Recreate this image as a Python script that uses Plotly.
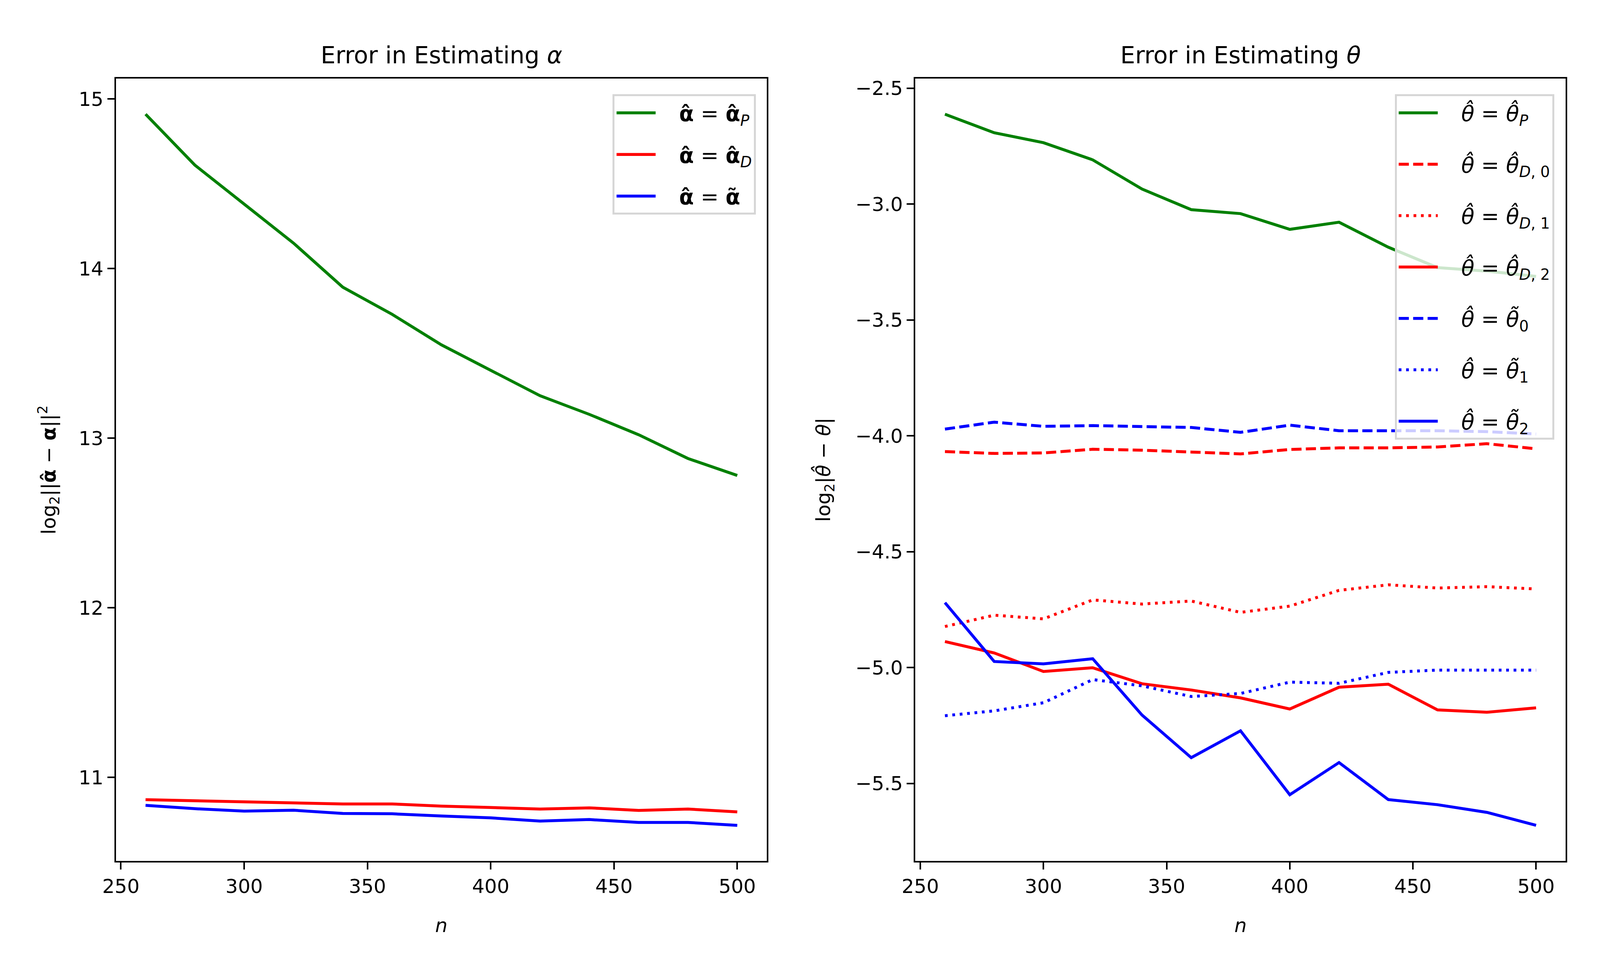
import plotly.graph_objects as go

# sample sizes
n = [260, 280, 300, 320, 340, 360, 380, 400, 420, 440, 460, 480, 500]

# left panel: log2 ||alpha_hat - alpha||^2
alpha_P = [14.91, 14.61, 14.38, 14.15, 13.89, 13.73, 13.55, 13.40, 13.25, 13.14, 13.02, 12.88, 12.78]
alpha_D = [10.868, 10.862, 10.853, 10.851, 10.843, 10.843, 10.830, 10.822, 10.813, 10.820, 10.805, 10.813, 10.796]
alpha_T = [10.835, 10.815, 10.801, 10.806, 10.787, 10.785, 10.772, 10.761, 10.742, 10.751, 10.734, 10.734, 10.717]

# right panel: log2 |theta_hat - theta|
theta_P = [-2.612, -2.692, -2.735, -2.809, -2.935, -3.024, -3.041, -3.109, -3.078, -3.186, -3.274, -3.289, -3.312]
theta_D0 = [-4.068, -4.076, -4.074, -4.058, -4.062, -4.071, -4.078, -4.059, -4.052, -4.052, -4.048, -4.034, -4.056]
theta_D1 = [-4.823, -4.774, -4.790, -4.708, -4.726, -4.713, -4.762, -4.735, -4.667, -4.643, -4.657, -4.651, -4.661]
theta_D2 = [-4.888, -4.937, -5.017, -5.001, -5.070, -5.097, -5.131, -5.179, -5.085, -5.072, -5.183, -5.193, -5.174]
theta_T0 = [-3.971, -3.941, -3.959, -3.956, -3.960, -3.964, -3.985, -3.954, -3.978, -3.978, -3.978, -3.982, -3.992]
theta_T1 = [-5.208, -5.187, -5.152, -5.052, -5.079, -5.125, -5.112, -5.063, -5.068, -5.021, -5.011, -5.011, -5.011]
theta_T2 = [-4.720, -4.974, -4.984, -4.962, -5.205, -5.389, -5.273, -5.549, -5.410, -5.570, -5.592, -5.625, -5.681]

x_ticks = [250, 300, 350, 400, 450, 500]
alpha_ticks = [11, 12, 13, 14, 15]
theta_ticks = [-5.5, -5.0, -4.5, -4.0, -3.5, -3.0, -2.5]

A = "<b>\u03b1\u0302</b>"
T = "<i>\u03b8\u0302</i>"
GAP = "\u2003"  # room between legend line and its text
alpha_labels = [GAP + A + " = " + A + "<sub><i>P</i></sub>",
                GAP + A + " = " + A + "<sub><i>D</i></sub>",
                GAP + A + " = <b>\u03b1\u0303</b>"]
theta_labels = [GAP + T + " = " + T + "<sub><i>P</i></sub>",
                GAP + T + " = " + T + "<sub><i>D</i>, 0</sub>",
                GAP + T + " = " + T + "<sub><i>D</i>, 1</sub>",
                GAP + T + " = " + T + "<sub><i>D</i>, 2</sub>",
                GAP + T + " = <i>\u03b8\u0303</i><sub>0</sub>",
                GAP + T + " = <i>\u03b8\u0303</i><sub>1</sub>",
                GAP + T + " = <i>\u03b8\u0303</i><sub>2</sub>"]

FONT = "DejaVu Sans"
FS = 50
LW = 7.5
DASH = "26px,11px"
DOT = "7px,12px"


def padded(*series):
    lo = min(min(s) for s in series)
    hi = max(max(s) for s in series)
    pad = (hi - lo) * 0.05
    return [lo - pad, hi + pad]


fig = go.Figure()

left = [(alpha_P, "green", "solid"), (alpha_D, "red", "solid"), (alpha_T, "blue", "solid")]
for i, (ys, col, dash) in enumerate(left):
    fig.add_trace(go.Scatter(x=n, y=ys, mode="lines", name=alpha_labels[i],
                             line=dict(color=col, width=LW, dash=dash),
                             xaxis="x", yaxis="y", legend="legend",
                             legendgroup="a%d" % i))

right = [(theta_P, "green", "solid"), (theta_D0, "red", DASH), (theta_D1, "red", DOT),
         (theta_D2, "red", "solid"), (theta_T0, "blue", DASH), (theta_T1, "blue", DOT),
         (theta_T2, "blue", "solid")]
for i, (ys, col, dash) in enumerate(right):
    fig.add_trace(go.Scatter(x=n, y=ys, mode="lines", name=theta_labels[i],
                             line=dict(color=col, width=LW, dash=dash),
                             xaxis="x2", yaxis="y2", legend="legend2",
                             legendgroup="t%d" % i))

axis_common = dict(showline=True, linecolor="black", linewidth=4, mirror=True,
                   ticks="outside", ticklen=18, tickwidth=4, tickcolor="black",
                   showgrid=False, zeroline=False, automargin=False,
                   tickfont=dict(family=FONT, size=FS, color="black"))

legend_common = dict(xanchor="right", yanchor="top", y=0.906,
                     bgcolor="rgba(255,255,255,0.8)", bordercolor="#d6d6d6", borderwidth=5,
                     font=dict(family=FONT, size=55, color="black"), itemwidth=100)


def label(text, x, y, angle=0, size=FS):
    return dict(text=text, x=x, y=y, xref="paper", yref="paper", textangle=angle,
                xanchor="center", yanchor="middle", showarrow=False,
                font=dict(family=FONT, size=size, color="black"))


fig.update_layout(
    margin=dict(l=0, r=0, t=0, b=0),
    plot_bgcolor="white", paper_bgcolor="white",
    font=dict(family=FONT, size=FS, color="black"),
    xaxis=dict(domain=[0.0708, 0.4792], range=[248, 512], tickvals=x_ticks, anchor="y", **axis_common),
    yaxis=dict(domain=[0.1164, 0.9222], range=padded(alpha_P, alpha_D, alpha_T),
               tickvals=alpha_ticks, anchor="x", **axis_common),
    xaxis2=dict(domain=[0.5724, 0.9804], range=[248, 512], tickvals=x_ticks, anchor="y2", **axis_common),
    yaxis2=dict(domain=[0.1164, 0.9222],
                range=padded(theta_P, theta_D0, theta_D1, theta_D2, theta_T0, theta_T1, theta_T2),
                tickvals=theta_ticks, tickformat=".1f", anchor="x2", **axis_common),
    legend=dict(x=0.4724, tracegroupgap=32, **legend_common),
    legend2=dict(x=0.9732, tracegroupgap=57, **legend_common),
    annotations=[
        label("Error in Estimating <i>\u03b1</i>", 0.275, 0.9464, size=60),
        label("Error in Estimating <i>\u03b8</i>", 0.7764, 0.9464, size=60),
        label("<i>n</i>", 0.275, 0.050),
        label("<i>n</i>", 0.7764, 0.050),
        label("log<sub>2</sub>||" + A + " \u2212 <b>\u03b1</b>||<sup>2</sup>", 0.0286, 0.5193, angle=-90),
        label("log<sub>2</sub>|" + T + " \u2212 <i>\u03b8</i>|", 0.5153, 0.5193, angle=-90),
    ],
)

fig.write_html("out.html")
